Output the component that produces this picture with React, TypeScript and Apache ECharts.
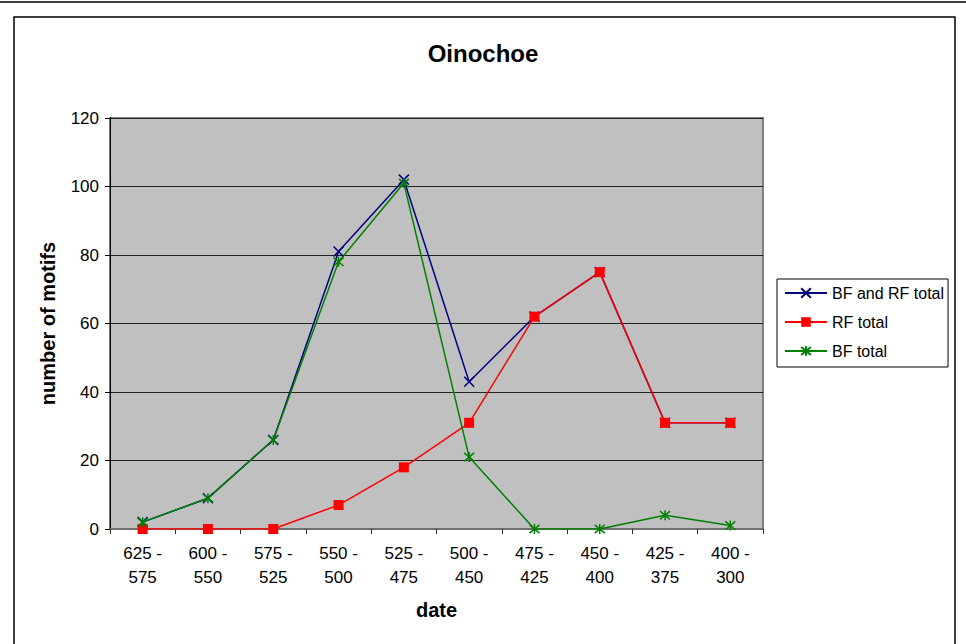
import React, { useEffect, useRef } from "react";
import * as echarts from "echarts";

const categories = [
  "625 -\n575",
  "600 -\n550",
  "575 -\n525",
  "550 -\n500",
  "525 -\n475",
  "500 -\n450",
  "475 -\n425",
  "450 -\n400",
  "425 -\n375",
  "400 -\n300",
];
const bfAndRfTotal = [2, 9, 26, 81, 102, 43, 62, 75, 31, 31];
const rfTotal = [0, 0, 0, 7, 18, 31, 62, 75, 31, 31];
const bfTotal = [2, 9, 26, 78, 101, 21, 0, 0, 4, 1];

const FONT = "'Liberation Sans', Arial, sans-serif";
const CROSS = "path://M0,0L10,10M10,0L0,10";
const STAR = "path://M0,0L10,10M10,0L0,10M5,-1L5,11";

export default function App() {
  const ref = useRef<HTMLDivElement>(null);
  useEffect(() => {
    document.body.style.margin = "0";
    const chart = echarts.init(ref.current!, null, { renderer: "svg" });
    chart.setOption({
      animation: false,
      backgroundColor: "#ffffff",
      textStyle: { fontFamily: FONT },
      title: {
        text: "Oinochoe",
        left: "center",
        top: 36,
        textStyle: { fontFamily: FONT, fontSize: 24, fontWeight: "bold", color: "#000" },
      },
      graphic: [
        { type: "line", shape: { x1: 0, y1: 2, x2: 966, y2: 2 }, style: { stroke: "#000", lineWidth: 1.5 }, z: -1 },
        { type: "rect", shape: { x: 14, y: 17, width: 941, height: 700 }, style: { stroke: "#000", lineWidth: 1.5, fill: "none" }, z: -1 },
      ],
      legend: {
        orient: "vertical",
        left: 777,
        top: 279,
        padding: [6, 4, 8, 7],
        backgroundColor: "#ffffff",
        borderColor: "#000",
        borderWidth: 1,
        itemWidth: 42,
        itemHeight: 12,
        itemGap: 13,
        textStyle: { fontFamily: FONT, fontSize: 16, color: "#000" },
        data: ["BF and RF total", "RF total", "BF total"],
      },
      grid: {
        left: 110,
        top: 118,
        right: 203,
        bottom: 115,
        show: true,
        backgroundColor: "#c0c0c0",
        borderColor: "#808080",
        borderWidth: 2,
      },
      xAxis: {
        type: "category",
        data: categories,
        boundaryGap: true,
        name: "date",
        nameLocation: "middle",
        nameGap: 71,
        nameTextStyle: { fontFamily: FONT, fontSize: 20, fontWeight: "bold", color: "#000" },
        axisLine: { lineStyle: { color: "#707070", width: 2 } },
        axisTick: { show: true, alignWithLabel: false, length: 5, lineStyle: { color: "#333", width: 1 } },
        axisLabel: { fontFamily: FONT, fontSize: 17, color: "#000", margin: 12, lineHeight: 24 },
        splitLine: { show: false },
      },
      yAxis: {
        type: "value",
        min: 0,
        max: 120,
        interval: 20,
        name: "number of motifs",
        nameLocation: "middle",
        nameGap: 52,
        nameTextStyle: { fontFamily: FONT, fontSize: 20, fontWeight: "bold", color: "#000" },
        axisLine: { show: true, lineStyle: { color: "#000", width: 1 } },
        axisTick: { show: true, length: 5, lineStyle: { color: "#000" } },
        axisLabel: { fontFamily: FONT, fontSize: 17, color: "#000", margin: 11 },
        splitLine: { show: true, lineStyle: { color: "#222", width: 1 } },
      },
      series: [
        {
          name: "BF and RF total",
          type: "line",
          data: bfAndRfTotal,
          symbol: CROSS,
          symbolSize: 10,
          color: "#000080",
          lineStyle: { color: "#000080", width: 1.5 },
          itemStyle: { color: "#000080", borderColor: "#000080", borderWidth: 1.5 },
        },
        {
          name: "RF total",
          type: "line",
          data: rfTotal,
          symbol: "rect",
          symbolSize: 10,
          color: "#ff0000",
          lineStyle: { color: "#ff0000", width: 1.5 },
          itemStyle: { color: "#ff0000", borderWidth: 0 },
        },
        {
          name: "BF total",
          type: "line",
          data: bfTotal,
          symbol: STAR,
          symbolSize: 10,
          color: "#008000",
          lineStyle: { color: "#008000", width: 1.5 },
          itemStyle: { color: "#008000", borderColor: "#008000", borderWidth: 1.5 },
        },
      ],
    });
    return () => chart.dispose();
  }, []);
  return <div ref={ref} style={{ width: 966, height: 644 }} />;
}
